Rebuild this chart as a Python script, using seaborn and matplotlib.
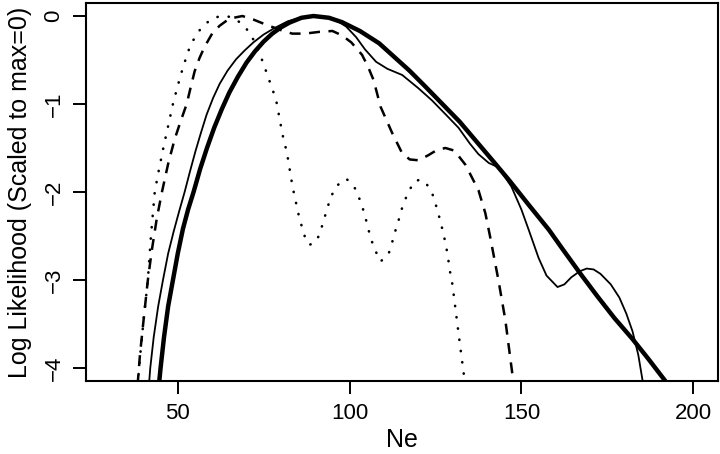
import numpy as np
import pandas as pd
import matplotlib
matplotlib.use("Agg")
import matplotlib.pyplot as plt
import seaborn as sns

# ---- data ----
thick_x = [44.5, 45.0, 46.0, 47.2, 48.6, 50.0, 51.5, 53.0, 54.6, 56.5, 58.5, 60.6, 62.8, 65.0,
           67.5, 70.0, 72.5, 75.0, 77.5, 80.0, 82.5, 86.0, 89.5, 94.0, 97.8, 103.0, 108.6,
           112.0, 117.4, 122.0, 127.0, 132.0, 137.0, 142.0, 146.5, 152.0, 158.0, 162.0, 167.0,
           172.0, 177.0, 182.3, 187.0, 192.3]
thick_y = [-4.2, -4.0, -3.65, -3.3, -3.0, -2.7, -2.42, -2.2, -2.0, -1.74, -1.5, -1.27, -1.06, -0.87,
           -0.69, -0.53, -0.4, -0.29, -0.2, -0.13, -0.075, -0.02, 0.0, -0.02, -0.07, -0.17, -0.31,
           -0.43, -0.62, -0.8, -1.0, -1.2, -1.43, -1.66, -1.87, -2.14, -2.43, -2.65, -2.92,
           -3.18, -3.43, -3.67, -3.9, -4.17]

thin_x = [41.6, 42.0, 43.0, 44.3, 45.7, 47.2, 48.8, 50.4, 52.0, 53.6, 55.2, 56.8, 58.4, 60.3,
          62.2, 64.5, 67.0, 69.5, 72.0, 75.0, 78.0, 82.0, 86.0, 90.0, 94.0, 97.0, 99.0, 101.9,
          104.5, 107.7, 111.0, 115.3, 120.0, 124.0, 128.0, 131.7, 135.0, 137.5, 140.5, 143.3,
          147.1, 150.0, 152.3, 155.0, 157.3, 160.5, 162.5, 164.5, 167.0, 169.0, 171.0, 173.0,
          176.0, 178.5, 180.5, 182.3, 184.0, 185.5]
thin_y = [-4.2, -4.0, -3.65, -3.3, -3.0, -2.7, -2.45, -2.22, -2.0, -1.76, -1.53, -1.32, -1.12, -0.93,
          -0.77, -0.62, -0.49, -0.39, -0.3, -0.21, -0.14, -0.06, -0.015, 0.0, -0.02, -0.07, -0.12,
          -0.24, -0.38, -0.52, -0.6, -0.67, -0.82, -0.96, -1.12, -1.27, -1.45, -1.57, -1.67,
          -1.72, -1.94, -2.2, -2.45, -2.75, -2.95, -3.08, -3.05, -2.97, -2.9, -2.87, -2.88,
          -2.93, -3.05, -3.2, -3.38, -3.58, -3.85, -4.2]

dash_x = [38.3, 39.0, 40.2, 41.3, 42.5, 43.9, 45.4, 47.2, 49.1, 50.8, 52.6, 53.7, 54.9, 56.3,
          57.8, 60.0, 62.2, 65.0, 68.8, 72.0, 75.8, 80.0, 83.3, 87.0, 91.2, 95.0, 97.8, 100.5,
          103.6, 105.3, 107.0, 109.0, 112.4, 115.3, 117.5, 120.1, 123.0, 125.5, 127.9, 130.5,
          133.7, 137.5, 139.5, 140.9, 143.3, 145.3, 147.2, 147.8]
dash_y = [-4.2, -3.85, -3.4, -3.0, -2.65, -2.3, -2.0, -1.68, -1.4, -1.2, -1.0, -0.82, -0.63, -0.48,
          -0.35, -0.2, -0.11, -0.03, 0.0, -0.04, -0.1, -0.16, -0.2, -0.2, -0.18, -0.17, -0.22,
          -0.3, -0.44, -0.57, -0.73, -1.03, -1.33, -1.56, -1.63, -1.64, -1.58, -1.52, -1.5,
          -1.53, -1.69, -1.98, -2.24, -2.51, -3.0, -3.45, -4.02, -4.2]

dot_x = [38.3, 39.2, 40.2, 41.3, 42.2, 43.3, 44.5, 45.8, 47.2, 48.6, 49.8, 51.1, 52.3, 53.5,
         55.0, 56.4, 58.0, 60.1, 62.0, 64.1, 66.0, 68.0, 70.3, 72.2, 73.8, 75.9, 78.6, 80.5,
         81.8, 83.4, 85.4, 87.3, 88.3, 89.8, 91.2, 93.4, 94.5, 96.2, 99.1, 101.6, 103.0, 104.2,
         105.2, 106.1, 107.3, 109.0, 111.3, 112.4, 113.4, 114.5, 115.5, 117.0, 118.8, 120.5,
         122.1, 124.0, 125.2, 126.2, 127.1, 127.9, 128.6, 129.1, 129.8, 130.3, 131.2, 132.2,
         133.2, 133.6]
dot_y = [-4.2, -3.8, -3.4, -3.0, -2.5, -2.0, -1.75, -1.5, -1.25, -1.0, -0.82, -0.64, -0.49, -0.35,
         -0.24, -0.16, -0.09, -0.03, -0.005, 0.0, -0.02, -0.07, -0.16, -0.28, -0.42, -0.65, -0.95,
         -1.35, -1.56, -1.94, -2.3, -2.55, -2.6, -2.58, -2.49, -2.2, -2.06, -1.93, -1.85, -1.96,
         -2.09, -2.23, -2.38, -2.52, -2.65, -2.79, -2.71, -2.57, -2.43, -2.29, -2.15, -2.01,
         -1.88, -1.86, -1.89, -2.01, -2.16, -2.3, -2.44, -2.58, -2.73, -2.88, -3.02, -3.17,
         -3.45, -3.76, -4.06, -4.2]

x_ticks = [50, 100, 150, 200]
y_ticks = [0, -1, -2, -3, -4]
x_label = "Ne"
y_label = "Log Likelihood (Scaled to max=0)"

# ---- plotting ----
sns.set_style("ticks")
plt.rcParams["font.family"] = ["Liberation Sans", "DejaVu Sans"]
plt.rcParams["text.color"] = "black"
plt.rcParams["axes.labelcolor"] = "black"

fig = plt.figure(figsize=(7.2, 4.54), dpi=100)
ax = fig.add_axes([86 / 720, 1 - 381 / 454, (718 - 86) / 720, (381 - 3) / 454])

kw = dict(ax=ax, color="black", sort=False, estimator=None)
sns.lineplot(x=dot_x, y=dot_y, linewidth=1.9,
             linestyle=(0, (0.1, 4.2)), dash_capstyle="round", **kw)
sns.lineplot(x=dash_x, y=dash_y, linewidth=1.8,
             linestyle=(0, (4.4, 3.4)), **kw)
sns.lineplot(x=thin_x, y=thin_y, linewidth=1.3, **kw)
sns.lineplot(x=thick_x, y=thick_y, linewidth=3.2, **kw)

ax.set_xlim(23.3, 207.2)
ax.set_ylim(-4.148, 0.148)
ax.set_xticks(x_ticks)
ax.set_yticks(y_ticks)
ax.set_xticklabels([str(t) for t in x_ticks])
ax.set_yticklabels([("\u2212" + str(-t)) if t < 0 else str(t) for t in y_ticks],
                   rotation=90, va="center")
ax.tick_params(axis="both", direction="out", length=9.5, width=1.4,
               labelsize=16, pad=6, colors="black", labelcolor="black")
for s in ax.spines.values():
    s.set_visible(True)
    s.set_linewidth(1.5)
    s.set_color("black")
ax.set_xlabel(x_label, fontsize=18, labelpad=3, color="black")
ax.set_ylabel(y_label, fontsize=18, labelpad=8, color="black")
ax.grid(False)

fig.savefig("out.png", dpi=100)
